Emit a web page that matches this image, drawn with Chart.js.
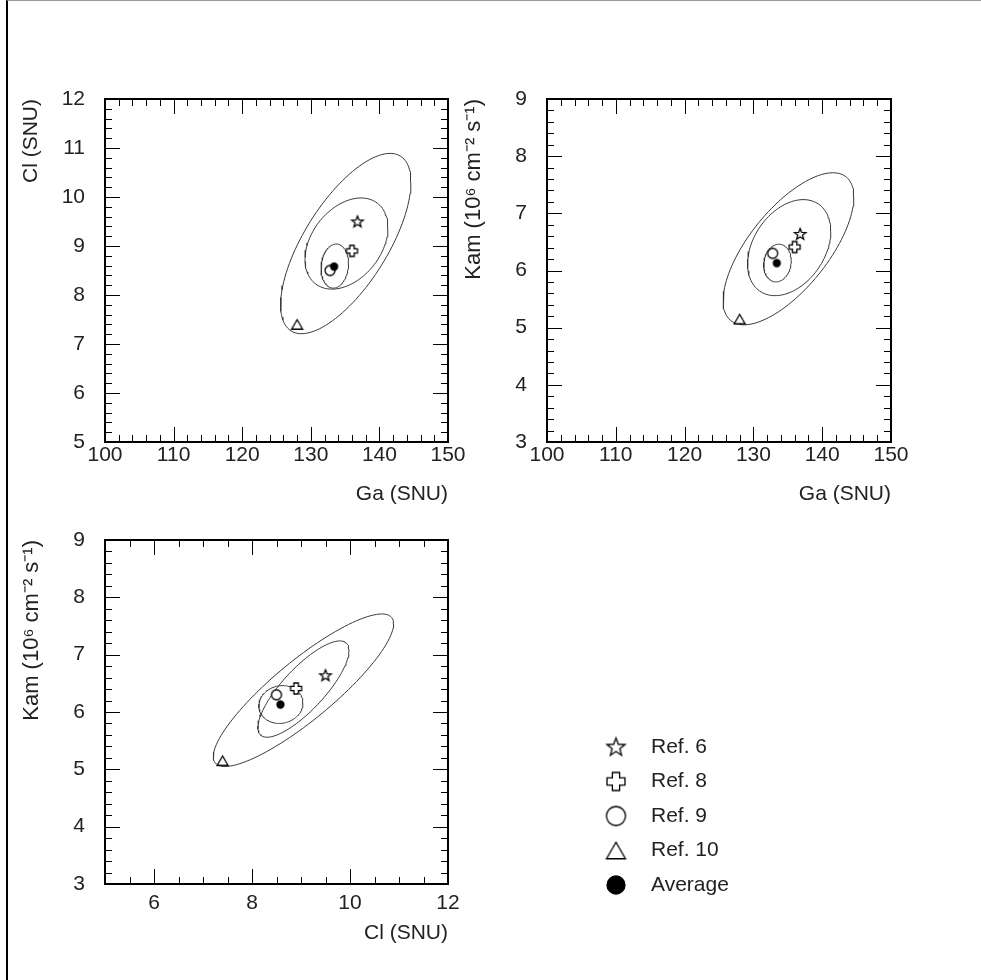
<!DOCTYPE html>
<html>
<head>
<meta charset="utf-8">
<title>Ga / Cl / Kam</title>
<script src="https://cdn.jsdelivr.net/npm/chart.js@4.4.1/dist/chart.umd.min.js"></script>
<style>
    body { margin: 0; background: #fff; }
    #page { position: relative; width: 981px; height: 980px; overflow: hidden; }
    #frame { position: absolute; left: 6px; top: 0; right: 0; bottom: 0;
             border-left: 2px solid #000; border-top: 1px solid #999; }
    canvas { position: absolute; left: 0; top: 0; }
</style>
</head>
<body>
<div id="page">
    <div id="frame"></div>
    <canvas id="c1" width="981" height="980"></canvas>
    <canvas id="c2" width="981" height="980"></canvas>
    <canvas id="c3" width="981" height="980"></canvas>
</div>
<script>
// measured points: Ref. 6, Ref. 8, Ref. 9, Ref. 10, Average
const refNames  = ['Ref. 6', 'Ref. 8', 'Ref. 9', 'Ref. 10', 'Average'];
const refShapes = ['star', 'plus', 'circle', 'triangle', 'dot'];
const gaValues  = [136.8, 136.0, 132.8, 128.0, 133.4];
const clValues  = [9.50, 8.90, 8.50, 7.40, 8.58];
const kamValues = [6.64, 6.41, 6.30, 5.15, 6.13];

// ellipses (inner, middle, outer): centre, half-extent, correlation
const ellGa     = [133.5, 135.2, 135.1];
const ellCl     = [8.59, 9.05, 9.05];
const ellKam    = [6.13, 6.40, 6.38];
const sigGa     = [2.0, 6.05, 9.5];
const sigCl     = [0.45, 0.93, 1.84];
const sigKam    = [0.33, 0.84, 1.33];
const rhoGaCl   = [0.12, 0.35, 0.68];
const rhoGaKam  = [0.12, 0.34, 0.68];
const rhoClKam  = [0.08, 0.80, 0.87];

// axes
const gaTicks  = [100, 110, 120, 130, 140, 150];
const clTicks  = [5, 6, 7, 8, 9, 10, 11, 12];
const clTicks3 = [6, 8, 10, 12];
const kamTicks = [3, 4, 5, 6, 7, 8, 9];
const gaTitle  = 'Ga (SNU)';
const clTitle  = 'Cl (SNU)';
const kamTitle = 'Kam (10\u2076 cm\u207B\u00B2 s\u207B\u00B9)';

const FONT = '"Liberation Sans", Arial, sans-serif';
const INK = '#222';

function ellipsePoints(cx, cy, sx, sy, rho) {
    var pts = [];
    var k = Math.sqrt(1 - rho * rho);
    for (var d = 0; d <= 360; d += 3) {
        var t = d * Math.PI / 180;
        pts.push({x: cx + sx * Math.cos(t), y: cy + sy * (rho * Math.cos(t) + k * Math.sin(t))});
    }
    return pts;
}

function markerImage(kind, size, lw) {
    var c = document.createElement('canvas');
    c.width = c.height = Math.ceil(size) + 4;
    var g = c.getContext('2d');
    var m = c.width / 2, h = size / 2;
    g.lineWidth = lw;
    g.strokeStyle = '#000';
    g.fillStyle = '#fff';
    g.beginPath();
    if (kind == 'star') {
        for (var i = 0; i < 10; i++) {
            var r = i % 2 ? h * 0.42 : h;
            var a = -Math.PI / 2 + i * Math.PI / 5;
            g.lineTo(m + r * Math.cos(a), m + 0.5 + r * Math.sin(a));
        }
    } else if (kind == 'plus') {
        var w = size * 0.2;
        var p = [[-w,-h],[w,-h],[w,-w],[h,-w],[h,w],[w,w],[w,h],[-w,h],[-w,w],[-h,w],[-h,-w],[-w,-w]];
        p.forEach(function (q) { g.lineTo(m + q[0], m + q[1]); });
    } else if (kind == 'triangle') {
        var th = size * 0.866;
        g.moveTo(m, m - th / 2);
        g.lineTo(m + h, m + th / 2);
        g.lineTo(m - h, m + th / 2);
    } else {
        g.arc(m, m, h, 0, Math.PI * 2);
        if (kind == 'dot') g.fillStyle = '#000';
    }
    g.closePath();
    g.fill();
    g.stroke();
    return c;
}

const plotSizes   = {star: 12, plus: 11, circle: 10, triangle: 11, dot: 7};
const legendSizes = {star: 19, plus: 18, circle: 19, triangle: 19, dot: 18};
const plotMarks   = refShapes.map(function (s) { return markerImage(s, plotSizes[s], 1.3); });
const legendMarks = refShapes.map(function (s) { return markerImage(s, legendSizes[s], 1.3); });

// frame with inward major/minor ticks on all four sides
const frameTicks = {
    id: 'frameTicks',
    afterDatasetsDraw(chart, args, o) {
        const ctx = chart.ctx, a = chart.chartArea, x = chart.scales.x, y = chart.scales.y;
        ctx.save();
        ctx.strokeStyle = '#000';
        ctx.lineWidth = 1;
        ctx.beginPath();
        var n = Math.round((x.max - x.min) / o.xMinor);
        for (var i = 0; i <= n; i++) {
            var v = x.min + i * o.xMinor;
            var len = Math.abs(v / o.xMajor - Math.round(v / o.xMajor)) < 1e-6 ? 15 : 7;
            var px = Math.round(x.getPixelForValue(v)) + 0.5;
            ctx.moveTo(px, a.bottom); ctx.lineTo(px, a.bottom - len);
            ctx.moveTo(px, a.top); ctx.lineTo(px, a.top + len);
        }
        n = Math.round((y.max - y.min) / o.yMinor);
        for (var j = 0; j <= n; j++) {
            var w = y.min + j * o.yMinor;
            var len2 = Math.abs(w / o.yMajor - Math.round(w / o.yMajor)) < 1e-6 ? 15 : 7;
            var py = Math.round(y.getPixelForValue(w)) + 0.5;
            ctx.moveTo(a.left, py); ctx.lineTo(a.left + len2, py);
            ctx.moveTo(a.right, py); ctx.lineTo(a.right - len2, py);
        }
        ctx.stroke();
        ctx.lineWidth = 2;
        ctx.strokeRect(a.left, a.top, a.right - a.left, a.bottom - a.top);
        ctx.restore();
    }
};

// legend of the marker symbols, only added to the bottom panel
const legendBox = {
    id: 'legendBox',
    afterDraw(chart) {
        const ctx = chart.ctx;
        ctx.save();
        ctx.font = '21px ' + FONT;
        ctx.fillStyle = INK;
        ctx.textBaseline = 'middle';
        ctx.textAlign = 'left';
        for (var i = 0; i < refNames.length; i++) {
            var yy = 747 + i * 34.5;
            var img = legendMarks[i];
            ctx.drawImage(img, 616 - img.width / 2, yy - img.height / 2);
            ctx.fillText(refNames[i], 651, yy);
        }
        ctx.restore();
    }
};

function makePanel(id, xs, ys, p) {
    var datasets = [];
    for (var i = 0; i < 3; i++) {
        datasets.push({
            data: ellipsePoints(xs.c[i], ys.c[i], xs.s[i], ys.s[i], p.rho[i]),
            showLine: true, pointRadius: 0, borderColor: '#383838', borderWidth: 1,
            fill: false, tension: 0, order: 3
        });
    }
    refNames.forEach(function (name, j) {
        datasets.push({
            label: name,
            data: [{x: xs.v[j], y: ys.v[j]}],
            pointStyle: plotMarks[j], pointRadius: 5,
            order: refShapes[j] == 'dot' ? 0 : 1
        });
    });
    var tickFont = {family: FONT, size: 21};
    return new Chart(document.getElementById(id), {
        type: 'scatter',
        data: {datasets: datasets},
        options: {
            responsive: false,
            animation: false,
            events: [],
            layout: {padding: p.pad},
            plugins: {
                legend: {display: false},
                tooltip: {enabled: false},
                frameTicks: {xMinor: xs.minor, xMajor: xs.major, yMinor: ys.minor, yMajor: ys.major}
            },
            scales: {
                x: {
                    type: 'linear', min: xs.min, max: xs.max,
                    afterBuildTicks: function (s) { s.ticks = xs.ticks.map(function (v) { return {value: v}; }); },
                    afterFit: function (s) { s.height = p.xh; },
                    ticks: {font: tickFont, color: INK, padding: p.xpad, maxRotation: 0},
                    grid: {display: false, drawTicks: false},
                    border: {display: false},
                    title: {display: true, text: xs.title, align: 'end', font: tickFont, color: INK, padding: 0}
                },
                y: {
                    type: 'linear', min: ys.min, max: ys.max,
                    afterBuildTicks: function (s) { s.ticks = ys.ticks.map(function (v) { return {value: v}; }); },
                    afterFit: function (s) { s.width = 86; },
                    ticks: {font: tickFont, color: INK, padding: 20},
                    grid: {display: false, drawTicks: false},
                    border: {display: false},
                    title: {display: true, text: ys.title, align: 'end', font: {family: FONT, size: ys.titleSize || 21}, color: INK, padding: 0}
                }
            }
        },
        plugins: p.legend ? [frameTicks, legendBox] : [frameTicks]
    });
}

var gaAxis  = {v: gaValues, c: ellGa, s: sigGa, min: 100, max: 150, ticks: gaTicks, minor: 2, major: 10, title: gaTitle};
var clAxis  = {v: clValues, c: ellCl, s: sigCl, min: 5, max: 12, ticks: clTicks, minor: 0.2, major: 1, title: clTitle};
var kamAxis = {v: kamValues, c: ellKam, s: sigKam, min: 3, max: 9, ticks: kamTicks, minor: 0.2, major: 1, title: kamTitle, titleSize: 22};
var clAxis3 = Object.assign({}, clAxis, {ticks: clTicks3, minor: 0.5, major: 2});

makePanel('c1', gaAxis, clAxis, {rho: rhoGaCl, xh: 65, xpad: 0.5,
    pad: {left: 19, top: 99, right: 533, bottom: 473}});
makePanel('c2', gaAxis, kamAxis, {rho: rhoGaKam, xh: 65, xpad: 0.5,
    pad: {left: 461, top: 99, right: 90, bottom: 473}});
makePanel('c3', clAxis3, kamAxis, {rho: rhoClKam, xh: 62, xpad: 7, legend: true,
    pad: {left: 19, top: 540, right: 533, bottom: 34}});
</script>
</body>
</html>
